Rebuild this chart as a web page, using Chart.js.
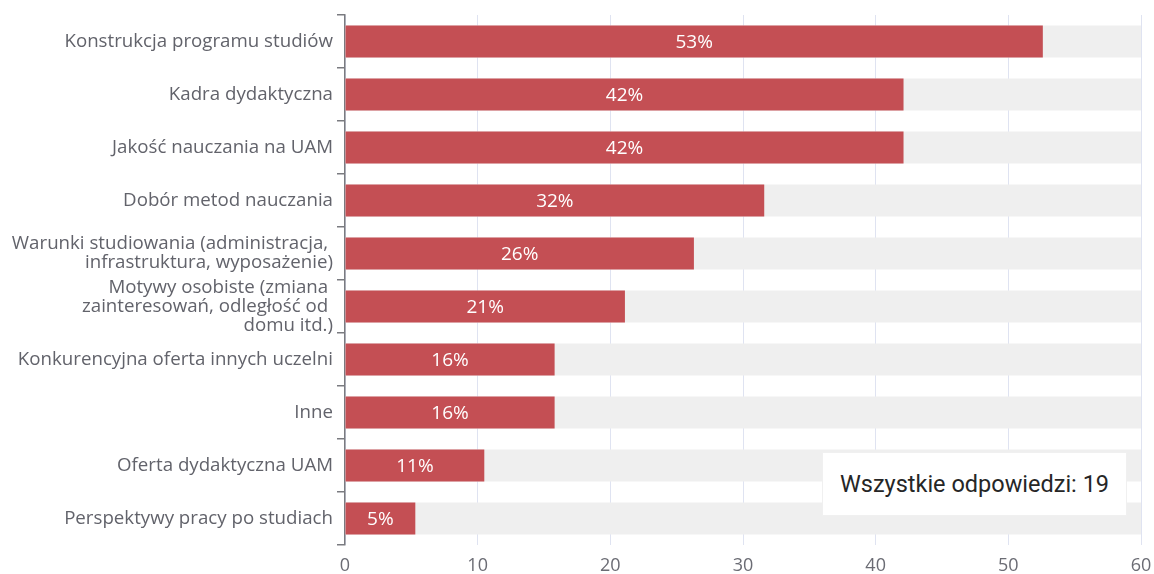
<!DOCTYPE html>
<html>
<head>
<meta charset="utf-8">
<script src="https://cdn.jsdelivr.net/npm/chart.js@4/dist/chart.umd.min.js"></script>
<style>
  html, body { margin: 0; padding: 0; background: #fff; }
  #wrap { position: relative; width: 1154px; height: 574px; }
  #total {
    position: absolute; left: 822px; top: 452px; width: 305px; height: 64px;
    background: #fff; border: 1px solid #f0f0f0; box-sizing: border-box;
    font: 23.5px Roboto, sans-serif; color: #262626;
    display: flex; align-items: center; justify-content: center;
  }
</style>
</head>
<body>
<div id="wrap">
  <canvas id="chart" width="1154" height="574"></canvas>
  <div id="total">Wszystkie odpowiedzi: 19</div>
</div>
<script>
  // categories (multi-line ones split manually)
  const categories = [
    "Konstrukcja programu studiów",
    "Kadra dydaktyczna",
    "Jakość nauczania na UAM",
    "Dobór metod nauczania",
    ["Warunki studiowania (administracja, ", "infrastruktura, wyposażenie)"],
    ["Motywy osobiste (zmiana ", "zainteresowań, odległość od ", "domu itd.)"],
    "Konkurencyjna oferta innych uczelni",
    "Inne",
    "Oferta dydaktyczna UAM",
    "Perspektywy pracy po studiach",
  ];

  // share of answers, %
  const shares = [52.6, 42.1, 42.1, 31.6, 26.3, 21.1, 15.8, 15.8, 10.5, 5.3];

  // full-width track behind each bar
  const trackMax = [60, 60, 60, 60, 60, 60, 60, 60, 60, 60];

  const xTicks = [0, 10, 20, 30, 40, 50, 60];

  const labelFont = "'Open Sans', 'Noto Sans', sans-serif";

  // white % labels centred in the red bars
  const barLabels = {
    id: "barLabels",
    afterDatasetsDraw(chart) {
      const ctx = chart.ctx;
      const meta = chart.getDatasetMeta(0);
      ctx.save();
      ctx.fillStyle = "#fff";
      ctx.font = "19px " + labelFont;
      ctx.textAlign = "center";
      ctx.textBaseline = "middle";
      meta.data.forEach((bar, i) => {
        const cx = (bar.x + bar.base) / 2;
        ctx.fillText(Math.round(shares[i]) + "%", cx, bar.y + 1);
      });
      ctx.restore();
    },
  };

  new Chart(document.getElementById("chart"), {
    type: "bar",
    data: {
      labels: categories,
      datasets: [
        {
          data: shares,
          backgroundColor: "#c44f54",
          grouped: false,
          categoryPercentage: 1,
          barPercentage: 0.6,
        },
        {
          data: trackMax,
          backgroundColor: "#efefef",
          grouped: false,
          categoryPercentage: 1,
          barPercentage: 0.6,
        },
      ],
    },
    options: {
      indexAxis: "y",
      responsive: false,
      animation: false,
      layout: { padding: { top: 15, right: 13, left: 0, bottom: 0 } },
      plugins: { legend: { display: false }, tooltip: { enabled: false } },
      scales: {
        x: {
          min: 0,
          max: 60,
          afterBuildTicks: (scale) => {
            scale.ticks = xTicks.map((v) => ({ value: v }));
          },
          afterFit: (scale) => {
            scale.height = 29;
            scale.paddingLeft = 0;
            scale.paddingRight = 0;
          },
          grid: { color: "#dfe3f1", drawTicks: false, lineWidth: 1 },
          border: { display: false },
          ticks: { color: "#6b6c74", font: { family: labelFont, size: 18 }, padding: 10 },
        },
        y: {
          afterFit: (scale) => { scale.width = 345; },
          grid: { offset: true, drawOnChartArea: false, tickLength: 8, color: "#7a7b80", lineWidth: 1.5 },
          border: { display: true, color: "#7a7b80", width: 1.5 },
          ticks: {
            autoSkip: false,
            color: "#62636b",
            font: { family: labelFont, size: 18.7, lineHeight: 1.03 },
            padding: 4,
          },
        },
      },
    },
    plugins: [barLabels],
  });
</script>
</body>
</html>
